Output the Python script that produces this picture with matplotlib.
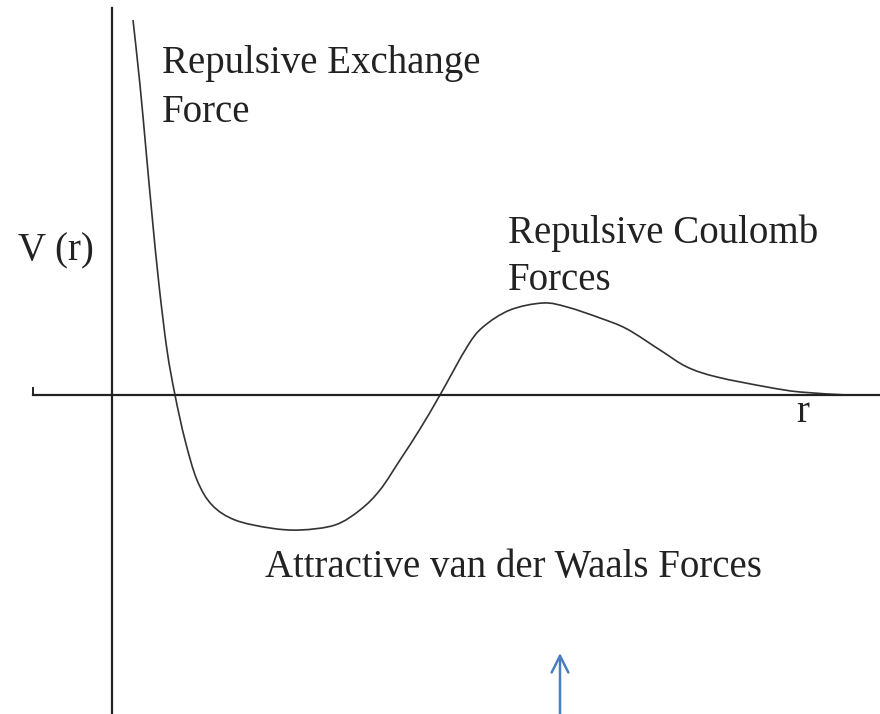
import matplotlib.pyplot as plt
from matplotlib.path import Path
from matplotlib.patches import PathPatch

# potential curve V(r), arbitrary units (origin where the axes cross)
r_vals = [0.21, 0.28, 0.34, 0.40, 0.47, 0.55, 0.63, 0.73, 0.85, 1.00, 1.23, 1.58,
          1.88, 2.23, 2.48, 2.68, 2.88, 3.08, 3.28, 3.55, 3.71, 3.98, 4.31, 4.55,
          4.88, 5.15, 5.48, 5.75, 6.05, 6.55, 6.88, 7.35]
v_vals = [3.75, 3.10, 2.45, 1.80, 1.10, 0.45, 0.00, -0.45, -0.85, -1.10, -1.25, -1.33,
          -1.35, -1.30, -1.15, -0.95, -0.65, -0.34, 0.00, 0.48, 0.68, 0.85, 0.92, 0.88,
          0.77, 0.66, 0.45, 0.28, 0.18, 0.08, 0.03, 0.00]

exchange_label = ["Repulsive Exchange", "Force"]
coulomb_label = ["Repulsive Coulomb", "Forces"]
vdw_label = "Attractive van der Waals Forces"

plt.rcParams['font.family'] = ['Liberation Serif', 'DejaVu Serif']
FS = 28
INK = '#222222'


def smooth_path(xs, ys):
    # draw a smooth line through the read points (Catmull-Rom as cubic Beziers)
    pts = list(zip(xs, ys))
    verts = [pts[0]]
    codes = [Path.MOVETO]
    for i in range(len(pts) - 1):
        p0 = pts[max(i - 1, 0)]
        p1 = pts[i]
        p2 = pts[i + 1]
        p3 = pts[min(i + 2, len(pts) - 1)]
        c1 = (p1[0] + (p2[0] - p0[0]) / 6, p1[1] + (p2[1] - p0[1]) / 6)
        c2 = (p2[0] - (p3[0] - p1[0]) / 6, p2[1] - (p3[1] - p1[1]) / 6)
        verts += [c1, c2, p2]
        codes += [Path.CURVE4] * 3
    return Path(verts, codes)


fig = plt.figure(figsize=(8.8, 7.14), dpi=100)
ax = fig.add_axes([0, 0, 1, 1])
ax.set_xlim(-1.12, 7.68)
ax.set_ylim(-3.19, 3.95)
ax.axis('off')

# axes
ax.plot([-0.79, 7.68], [0, 0], color=INK, lw=1.6)
ax.plot([-0.79, -0.79], [0, 0.07], color=INK, lw=1.4)
ax.plot([0, 0], [-3.19, 3.87], color=INK, lw=1.6)

ax.add_patch(PathPatch(smooth_path(r_vals, v_vals), fill=False,
                       edgecolor='#333333', lw=1.2))

ax.text(-0.94, 1.35, "V (r)", fontsize=FS, ha='left', va='baseline', color=INK)
ax.text(6.91, -0.27, "r", fontsize=FS, ha='center', va='baseline', color=INK)

ax.text(0.50, 3.22, exchange_label[0], fontsize=FS, ha='left', va='baseline', color=INK)
ax.text(0.50, 2.73, exchange_label[1], fontsize=FS, ha='left', va='baseline', color=INK)
ax.text(3.96, 1.52, coulomb_label[0], fontsize=FS, ha='left', va='baseline', color=INK)
ax.text(3.96, 1.05, coulomb_label[1], fontsize=FS, ha='left', va='baseline', color=INK)
ax.text(1.53, -1.82, vdw_label, fontsize=FS, ha='left', va='baseline', color=INK)

ax.annotate("", xy=(4.48, -2.58), xytext=(4.48, -3.19),
            arrowprops=dict(arrowstyle='->', color='#4a7ebf', lw=1.8,
                            mutation_scale=30, shrinkA=0, shrinkB=0))

fig.savefig("out.png", dpi=100)
